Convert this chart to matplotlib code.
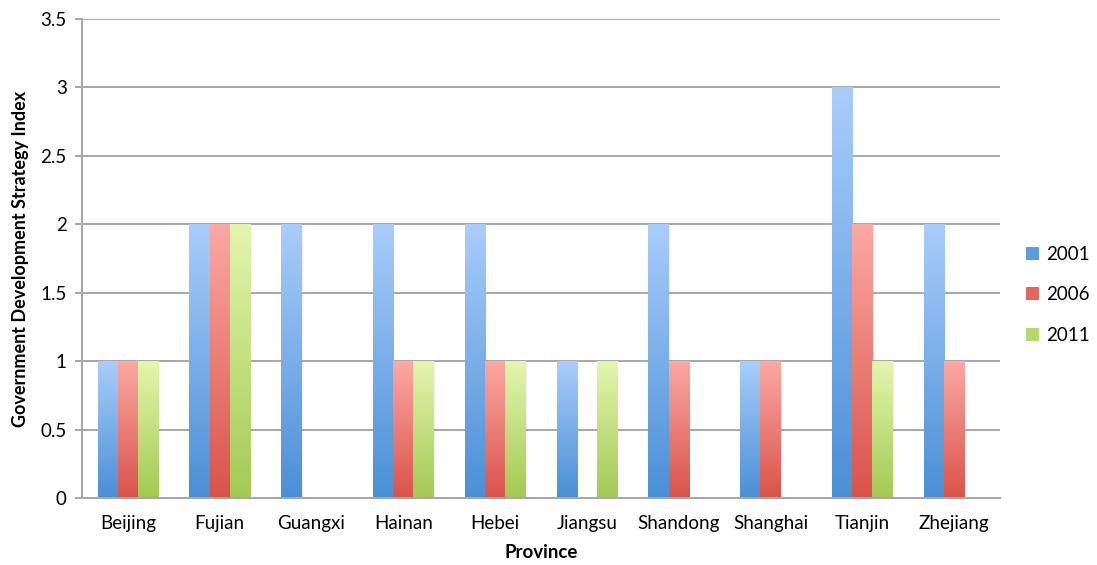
import matplotlib
matplotlib.use("Agg")
import matplotlib.pyplot as plt
import numpy as np
from matplotlib.colors import LinearSegmentedColormap
from matplotlib.patches import Patch

plt.rcParams['font.family'] = ['Lato', 'DejaVu Sans']

provinces = ["Beijing", "Fujian", "Guangxi", "Hainan", "Hebei",
             "Jiangsu", "Shandong", "Shanghai", "Tianjin", "Zhejiang"]
years = ["2001", "2006", "2011"]
v2001 = [1, 2, 2, 2, 2, 1, 2, 1, 3, 2]
v2006 = [1, 2, 0, 1, 1, 0, 1, 1, 2, 1]
v2011 = [1, 2, 0, 1, 1, 1, 0, 0, 1, 0]

# (top colour, bottom colour) for each series gradient
gradients = [("#a9cdfb", "#4a8fd6"),
             ("#fca8a3", "#d9534a"),
             ("#e3f6ae", "#a3c954")]
legend_colors = ["#5b9be0", "#e2675f", "#b5d86a"]

fig = plt.figure(figsize=(10.97, 5.65), dpi=100)
ax = fig.add_axes([0.0748, 0.1186, 0.8368, 0.8478])

x = np.arange(len(provinces))
bw = 0.22
series = [v2001, v2006, v2011]
grad = np.linspace(0, 1, 256).reshape(-1, 1)

for i, (vals, (top, bot)) in enumerate(zip(series, gradients)):
    cmap = LinearSegmentedColormap.from_list(f"g{i}", [bot, top])
    bars = ax.bar(x + (i - 1) * bw, vals, bw, color="none", edgecolor="none", zorder=2)
    for b in bars:
        h = b.get_height()
        if h <= 0:
            continue
        x0 = b.get_x()
        w = b.get_width()
        # soft shadow on the right side
        ax.add_patch(plt.Rectangle((x0 + 0.012, 0), w, h - 0.01, facecolor="#000000",
                                   alpha=0.06, edgecolor="none", zorder=1.9))
        ax.imshow(grad, cmap=cmap, origin="lower", aspect="auto",
                  extent=[x0, x0 + w, 0, h], zorder=2, interpolation="bicubic")

ax.set_xlim(-0.5, len(provinces) - 0.5)
ax.set_ylim(0, 3.5)
ax.set_yticks(np.arange(0, 3.51, 0.5))
ax.set_yticklabels(["0", "0.5", "1", "1.5", "2", "2.5", "3", "3.5"])
ax.set_xticks(x)
ax.set_xticklabels(provinces)

ax.yaxis.grid(True, color="#a6a6a6", linewidth=1.4)
ax.set_axisbelow(True)
for s in ["top", "right"]:
    ax.spines[s].set_visible(False)
for s in ["left", "bottom"]:
    ax.spines[s].set_color("#a6a6a6")
    ax.spines[s].set_linewidth(1.4)
ax.tick_params(axis="y", colors="#a6a6a6", width=1.4, length=5, labelcolor="black",
               labelsize=13.5, pad=6)
ax.tick_params(axis="x", length=0, labelsize=13.5, pad=12)

ax.set_xlabel("Province", fontsize=13.5, fontweight="bold", labelpad=9)
ax.set_ylabel("Government Development Strategy Index", fontsize=13,
              fontweight="bold", labelpad=8)

handles = [Patch(facecolor=c, edgecolor="none") for c in legend_colors]
fig.legend(handles, years, loc="center left", bbox_to_anchor=(0.928, 0.478),
           frameon=False, fontsize=13.5, handlelength=0.7, handleheight=0.7,
           handletextpad=0.4, labelspacing=1.25, borderaxespad=0)

fig.savefig("out.png", dpi=100)
